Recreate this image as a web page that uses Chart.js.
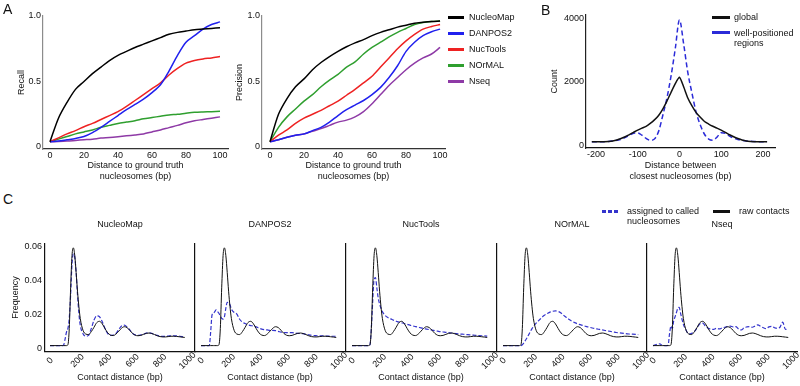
<!DOCTYPE html>
<html>
<head>
<meta charset="utf-8">
<script src="https://cdn.jsdelivr.net/npm/chart.js@4.4.0/dist/chart.umd.min.js"></script>
<style>
  body { margin: 0; background: #fff; }
  #fig { position: relative; width: 800px; height: 386px; overflow: hidden; font-family: "Liberation Sans", Arial, Helvetica, sans-serif; color: #111; }
  #fig canvas { position: absolute; }
  .txt { position: absolute; font-size: 9px; line-height: 10px; white-space: nowrap; }
  .letter { position: absolute; font-size: 14px; line-height: 16px; }
  .key { position: absolute; }
</style>
</head>
<body>
<div id="fig"></div>
<script>
// ---- panel A: recall / precision vs distance
let distX = [0, 5, 10, 15, 20, 25, 30, 35, 40, 45, 50, 55, 60, 65, 70, 75, 80, 85, 90, 95, 100];
let recallNucleoMap = [.04, .22, .34, .44, .50, .56, .61, .66, .70, .73, .76, .785, .81, .835, .86, .875, .885, .895, .90, .905, .91];
let recallDANPOS2   = [.04, .045, .055, .065, .08, .11, .15, .195, .24, .285, .325, .365, .415, .475, .58, .70, .80, .85, .90, .935, .955];
let recallNucTools  = [.04, .07, .10, .125, .155, .18, .21, .24, .27, .31, .355, .40, .445, .49, .55, .60, .64, .66, .672, .68, .69];
let recallNOrMAL    = [.04, .06, .08, .10, .115, .13, .15, .165, .18, .19, .20, .215, .225, .235, .245, .25, .258, .265, .268, .27, .272];
let recallNseq      = [.04, .042, .045, .05, .055, .06, .068, .072, .078, .085, .092, .10, .115, .13, .148, .165, .185, .20, .21, .22, .23];

let precisionNucleoMap = [.04, .25, .37, .46, .52, .59, .645, .69, .73, .765, .795, .82, .85, .875, .895, .915, .93, .945, .952, .958, .962];
let precisionDANPOS2   = [.04, .055, .075, .09, .10, .125, .15, .19, .24, .285, .32, .355, .40, .455, .53, .62, .73, .80, .85, .88, .90];
let precisionNucTools  = [.04, .09, .13, .18, .22, .25, .28, .315, .35, .395, .44, .49, .54, .61, .68, .75, .81, .86, .90, .92, .935];
let precisionNOrMAL    = [.04, .15, .23, .29, .35, .40, .46, .51, .555, .61, .65, .71, .76, .80, .84, .875, .905, .935, .95, .958, .962];
let precisionNseq      = [.04, .055, .075, .09, .10, .12, .14, .165, .19, .205, .23, .27, .33, .40, .47, .53, .59, .64, .68, .71, .76];

let methodNames = ['NucleoMap', 'DANPOS2', 'NucTools', 'NOrMAL', 'Nseq'];
let methodColors = ['#000000', '#2020ee', '#ee2222', '#2f9f2f', '#8e3aa6'];
let fracTicks = [0, 0.5, 1];
let fracLabels = ['0', '0.5', '1.0'];
let distTicks = [0, 20, 40, 60, 80, 100];
let distLabels = ['0', '20', '40', '60', '80', '100'];

// ---- panel B: distance between closest nucleosomes
let pairX = [-210, -200, -190, -180, -170, -160, -150, -140, -130, -120, -110, -100, -90, -80, -70, -60, -50, -40, -30, -20, -10, 0,
             10, 20, 30, 40, 50, 60, 70, 80, 90, 100, 110, 120, 130, 140, 150, 160, 170, 180, 190, 200, 210];
let countGlobal = [125, 125, 125, 128, 135, 150, 180, 225, 280, 350, 420, 490, 550, 610, 700, 810, 950, 1150, 1400, 1680, 1950, 2150,
                   1850, 1500, 1250, 1040, 890, 760, 680, 610, 550, 490, 420, 345, 280, 225, 180, 150, 135, 128, 125, 125, 125];
let countWellPositioned = [125, 125, 125, 128, 135, 150, 170, 200, 260, 330, 390, 400, 330, 230, 170, 210, 450, 950, 1500, 2200, 3050, 3950,
                           3200, 2300, 1650, 1050, 650, 360, 210, 175, 270, 410, 390, 300, 240, 195, 165, 150, 138, 130, 126, 125, 125];
let countTicks = [0, 2000, 4000];
let countLabels = ['0', '2000', '4000'];
let pairTicks = [-200, -100, 0, 100, 200];
let pairLabels = ['-200', '-100', '0', '100', '200'];

// ---- panel C: contact distance distributions
let contactX = [0, 50, 60, 70, 80, 90, 100, 110, 120, 130, 140, 150, 160, 170, 180, 190, 200, 210, 220,
                240, 260, 280, 300, 320, 340, 360, 380, 400, 420, 440, 460, 480, 500, 520, 540, 560, 580, 600,
                620, 640, 660, 680, 700, 720, 740, 760, 780, 800, 820, 840, 860, 880, 900, 920, 940, 960, 980];
let rawContacts = [.002, .002, .002, .002, .002, .002, .002, .002, .002, .0025, .012, .036, .055, .0595, .055, .045, .034, .025, .018,
                   .011, .0088, .0085, .0102, .0128, .0155, .0163, .0148, .012, .0095, .0082, .0079, .0088, .0105, .0122, .0131, .0126, .011, .0092,
                   .0081, .0078, .008, .0086, .0092, .0094, .0091, .0085, .0078, .0073, .0071, .0071, .0073, .0075, .0075, .0074, .0072, .007, .0068];
let assignedNucleoMap = [.002, .002, .002, .002, .002, .002, .0025, .006, .01, .012, .018, .032, .05, .056, .054, .045, .032, .021, .014,
                         .009, .0075, .008, .012, .017, .0195, .019, .016, .012, .009, .008, .0082, .0092, .0115, .0135, .014, .013, .0112, .0092,
                         .0083, .008, .0083, .0088, .0093, .0095, .0092, .0086, .008, .0076, .0074, .0074, .0076, .0078, .0078, .0077, .0075, .0073, .0071];
let assignedDANPOS2 = [.002, .002, .002, .01, .02, .021, .022, .023, .022, .021, .0195, .018, .0176, .019, .024, .0275, .0272, .026, .0235,
                       .0215, .0205, .0175, .0158, .015, .0142, .0138, .0135, .013, .0123, .0117, .0114, .0112, .011, .011, .0108, .0104, .0099, .0096,
                       .0096, .0096, .0096, .0094, .0092, .0091, .009, .0087, .0083, .0081, .0079, .0078, .0077, .0077, .0076, .0076, .0075, .0075, .0075];
let assignedNucTools = [.002, .002, .002, .002, .002, .002, .002, .002, .002, .0025, .012, .028, .041, .042, .036, .03, .0265, .024, .022,
                        .0198, .0185, .0177, .017, .0163, .0158, .0154, .015, .0145, .014, .0136, .0132, .0128, .0124, .012, .0117, .0114, .0111, .0108,
                        .0105, .0102, .01, .0098, .0096, .0094, .0092, .009, .0088, .0087, .0086, .0084, .0083, .0082, .008, .0079, .0078, .0077, .0076];
let assignedNOrMAL = [.002, .002, .002, .002, .002, .002, .002, .002, .002, .002, .0025, .0035, .0048, .006, .0075, .009, .0105, .012, .0132,
                      .0152, .0168, .0185, .0198, .0208, .0217, .0222, .0224, .0221, .0212, .0198, .0185, .0173, .0163, .0155, .0148, .0143, .0138, .0133,
                      .0129, .0125, .0121, .0118, .0115, .0112, .0109, .0106, .0103, .01, .0097, .0095, .0093, .0091, .0089, .0088, .0087, .0086, .0085];
let assignedNseq = [.002, .003, .0025, .002, .002, .002, .002, .0025, .009, .0135, .012, .0165, .019, .0215, .024, .0245, .021, .0175, .0145,
                    .011, .0088, .0092, .0102, .0125, .0148, .0152, .0135, .0122, .0117, .0115, .0122, .0118, .0123, .0128, .0132, .0135, .013, .0132,
                    .0118, .0112, .0125, .013, .0132, .0128, .0135, .0142, .0133, .0125, .012, .013, .0133, .0125, .0122, .0128, .0158, .0115, .012];
let freqTicks = [0, 0.02, 0.04, 0.06];
let freqLabels = ['0', '0.02', '0.04', '0.06'];
let contactTicks = [0, 200, 400, 600, 800, 1000];
let contactLabels = ['0', '200', '400', '600', '800', '1000'];

Chart.defaults.font.family = '"Liberation Sans", Arial, Helvetica, sans-serif';
Chart.defaults.font.size = 9;
Chart.defaults.color = '#111';
Chart.defaults.animation = false;
Chart.defaults.plugins.legend.display = false;
Chart.defaults.plugins.tooltip.enabled = false;
Chart.defaults.elements.point.radius = 0;

let fig = document.getElementById('fig');

function addCanvas(left, top, width, height) {
    let c = document.createElement('canvas');
    c.width = width;
    c.height = height;
    c.style.left = left + 'px';
    c.style.top = top + 'px';
    c.style.width = width + 'px';
    c.style.height = height + 'px';
    fig.appendChild(c);
    return c;
}

function addText(text, left, top, cls) {
    let d = document.createElement('div');
    d.className = cls || 'txt';
    d.style.left = left + 'px';
    d.style.top = top + 'px';
    d.textContent = text;
    fig.appendChild(d);
}

function addKey(left, y, width, color, dashed) {
    let d = document.createElement('div');
    d.className = 'key';
    d.style.left = left + 'px';
    d.style.top = (y - 1.5) + 'px';
    d.style.width = width + 'px';
    d.style.height = '3px';
    d.style.background = dashed ? 'repeating-linear-gradient(to right, ' + color + ' 0 4px, transparent 4px 6px)' : color;
    fig.appendChild(d);
}

function points(xs, ys) {
    return xs.map(function(x, i) { return {x: x, y: ys[i]}; });
}

// linear axis with hand-set ticks and a fixed thickness
function axis(o) {
    let horizontal = o.position === 'bottom';
    return {
        type: 'linear',
        position: o.position,
        min: o.min,
        max: o.max,
        afterBuildTicks: function(s) {
            s.ticks = o.ticks.map(function(v) { return {value: v}; });
        },
        afterFit: function(s) {
            if (horizontal) s.height = o.size; else s.width = o.size;
        },
        grid: {display: false, drawTicks: false},
        border: {display: true, color: o.color, width: o.lineWidth || 1},
        ticks: {
            display: !!o.labels,
            autoSkip: false,
            padding: o.pad || 0,
            minRotation: o.rot || 0,
            maxRotation: o.rot || 0,
            color: '#111',
            callback: function(v, i) { return o.labels ? o.labels[i] : ''; }
        },
        title: {display: !!o.title, text: o.title || '', padding: o.titlePad || 0, color: '#111'}
    };
}

// matplotlib-style rotated labels: centred on their tick
let centerRotatedTicks = {
    id: 'centerRotatedTicks',
    beforeDraw: function(chart) {
        let s = chart.scales.x;
        s.getLabelItems().forEach(function(item, i) {
            item.options.textAlign = 'center';
            item.options.translation = [s.getPixelForTick(i), s.top + 9];
            item.textOffset = 0;
        });
    }
};

function methodDatasets(series) {
    return series.map(function(ys, i) {
        return {
            label: methodNames[i],
            data: points(distX, ys),
            borderColor: methodColors[i],
            borderWidth: 1.5,
            tension: 0.3,
            fill: false
        };
    });
}

function lineChart(canvas, datasets, padding, scales, extra) {
    extra = extra || {};
    return new Chart(canvas, {
        type: 'line',
        data: {datasets: datasets},
        options: {
            responsive: false,
            animation: false,
            layout: {padding: padding},
            scales: scales,
            plugins: {title: extra.title || {display: false}}
        },
        plugins: extra.plugins || []
    });
}

// ---------- A
lineChart(addCanvas(0, 0, 232, 190),
    methodDatasets([recallNucleoMap, recallDANPOS2, recallNucTools, recallNOrMAL, recallNseq]),
    {left: 0, top: 16, right: 4, bottom: 0},
    {
        x: axis({position: 'bottom', min: -4.1, max: 104.7, ticks: distTicks, labels: distLabels, size: 41, pad: 1,
                 color: '#333', lineWidth: 1.2, title: ['Distance to ground truth', 'nucleosomes (bp)'], titlePad: {top: 0, bottom: 8}}),
        y: axis({position: 'left', min: -0.0153, max: 1, ticks: fracTicks, labels: fracLabels, size: 43, pad: 2,
                 color: '#8c8c8c', lineWidth: 1.2, title: 'Recall', titlePad: {top: 16, bottom: 0}})
    });

lineChart(addCanvas(230, 0, 219, 190),
    methodDatasets([precisionNucleoMap, precisionDANPOS2, precisionNucTools, precisionNOrMAL, precisionNseq]),
    {left: 0, top: 16, right: 4, bottom: 0},
    {
        x: axis({position: 'bottom', min: -4.7, max: 102.9, ticks: distTicks, labels: distLabels, size: 41, pad: 1,
                 color: '#333', lineWidth: 1.2, title: ['Distance to ground truth', 'nucleosomes (bp)'], titlePad: {top: 0, bottom: 8}}),
        y: axis({position: 'left', min: -0.0153, max: 1, ticks: fracTicks, labels: fracLabels, size: 32, pad: 2,
                 color: '#8c8c8c', lineWidth: 1.2, title: 'Precision', titlePad: {top: 4, bottom: 0}})
    });

methodNames.forEach(function(name, i) {
    addKey(448, 17 + i * 16, 16, methodColors[i], false);
    addText(name, 469, 12 + i * 16);
});

// ---------- B
lineChart(addCanvas(540, 0, 240, 190),
    [
        {label: 'global', data: points(pairX, countGlobal), borderColor: '#111', borderWidth: 1.5, tension: 0.2},
        {label: 'well-positioned regions', data: points(pairX, countWellPositioned), borderColor: '#2b2bd8', borderWidth: 1.5,
         borderDash: [5, 3], cubicInterpolationMode: 'monotone'}
    ],
    {left: 0, top: 15, right: 5, bottom: 0},
    {
        x: axis({position: 'bottom', min: -224, max: 229, ticks: pairTicks, labels: pairLabels, size: 42, pad: 1,
                 color: '#111', lineWidth: 1.2, title: ['Distance between', 'closest nucleosomes (bp)'], titlePad: {top: 0, bottom: 8}}),
        y: axis({position: 'left', min: -72, max: 4104, ticks: countTicks, labels: countLabels, size: 46, pad: 2,
                 color: '#222', lineWidth: 1.2, title: 'Count', titlePad: {top: 9.6, bottom: 0}})
    });

addKey(712, 17, 18, '#111', false);
addText('global', 734, 12);
addKey(712, 32.7, 18, '#2b2bd8', false);
addText('well-positioned', 734, 27.7);
addText('regions', 734, 37.7);

// ---------- C
let panelLeft = [45, 195, 346, 497, 647];
let assignedSeries = [assignedNucleoMap, assignedDANPOS2, assignedNucTools, assignedNOrMAL, assignedNseq];

methodNames.forEach(function(name, i) {
    let first = i === 0;
    let yWidth = first ? 45 : 20;
    let canvas = addCanvas(panelLeft[i] - yWidth, 215, yWidth + 156, 171);
    lineChart(canvas,
        [
            {label: 'raw contacts', data: points(contactX, rawContacts), borderColor: '#111', borderWidth: 1,
             cubicInterpolationMode: 'monotone'},
            {label: 'assigned to called nucleosomes', data: points(contactX, assignedSeries[i]), borderColor: '#3434cc',
             borderWidth: 1.2, borderDash: [4, 2], cubicInterpolationMode: 'monotone'}
        ],
        {left: 0, top: 0, right: 6, bottom: 0},
        {
            x: axis({position: 'bottom', min: first ? -36.4 : -43.5, max: first ? 1054.5 : 1043.5, ticks: contactTicks,
                     labels: contactLabels, size: 34.3, pad: 1, rot: 45, color: '#111', lineWidth: 1.2,
                     title: 'Contact distance (bp)', titlePad: {top: 0, bottom: 2.6}}),
            y: axis({position: 'left', min: -0.00159, max: 0.06218, ticks: freqTicks, labels: first ? freqLabels : null,
                     size: yWidth, pad: 3, color: '#111', lineWidth: 1.2, title: first ? 'Frequency' : '',
                     titlePad: {top: 10.6, bottom: 0}})
        },
        {
            title: {display: true, text: name, fullSize: false, color: '#111', font: {size: 9, weight: 'normal'},
                    padding: {top: 4.6, bottom: 12.9}},
            plugins: [centerRotatedTicks]
        });
});

addKey(602, 211.7, 16, '#3434cc', true);
addText('assigned to called', 627, 206);
addText('nucleosomes', 627, 215.5);
addKey(713, 211.7, 17, '#111', false);
addText('raw contacts', 739, 206);

addText('A', 3, 1, 'letter');
addText('B', 541, 2, 'letter');
addText('C', 3, 191, 'letter');
</script>
</body>
</html>
